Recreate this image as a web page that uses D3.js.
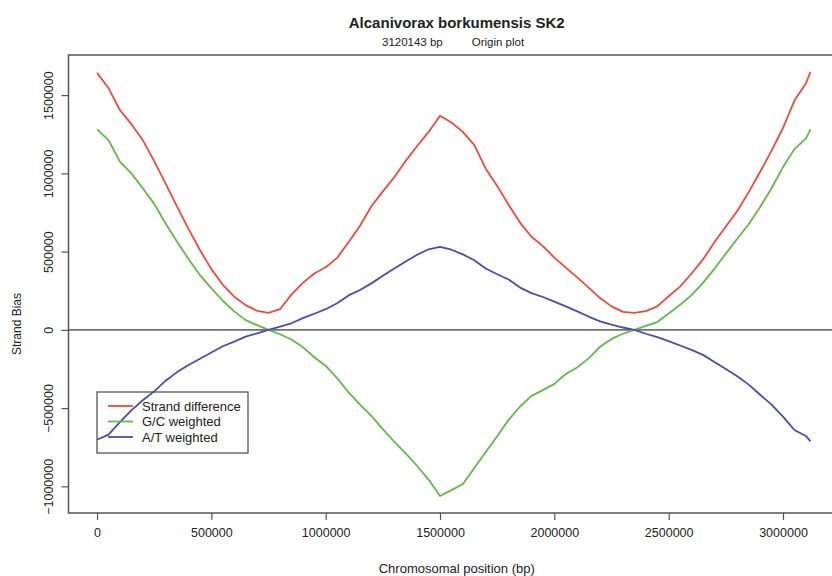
<!DOCTYPE html>
<html>
<head>
<meta charset="utf-8">
<script src="https://cdn.jsdelivr.net/npm/d3@7"></script>
<style>
  body { margin: 0; background: #fff; }
  text { font-family: "Liberation Sans", Arial, sans-serif; fill: #222; }
</style>
</head>
<body>
<div id="chart"></div>
<script>
// chromosomal positions (bp), every 50 kb + genome end
const positions = [0, 50000, 100000, 150000, 200000, 250000, 300000, 350000, 400000, 450000,
  500000, 550000, 600000, 650000, 700000, 750000, 800000, 850000, 900000, 950000,
  1000000, 1050000, 1100000, 1150000, 1200000, 1250000, 1300000, 1350000, 1400000, 1450000,
  1500000, 1550000, 1600000, 1650000, 1700000, 1750000, 1800000, 1850000, 1900000, 1950000,
  2000000, 2050000, 2100000, 2150000, 2200000, 2250000, 2300000, 2350000, 2400000, 2450000,
  2500000, 2550000, 2600000, 2650000, 2700000, 2750000, 2800000, 2850000, 2900000, 2950000,
  3000000, 3050000, 3100000, 3120143];

const strandDiff = [1642000, 1545000, 1405000, 1315000, 1212000, 1078000, 935000, 788000, 645000, 510000,
  388000, 288000, 212000, 158000, 122000, 108000, 132000, 225000, 300000, 360000,
  400000, 460000, 560000, 665000, 790000, 885000, 975000, 1080000, 1175000, 1265000,
  1368000, 1325000, 1265000, 1180000, 1030000, 920000, 800000, 685000, 595000, 535000,
  462000, 398000, 335000, 270000, 203000, 150000, 115000, 108000, 120000, 150000,
  215000, 276000, 360000, 450000, 560000, 660000, 760000, 880000, 1010000, 1145000,
  1290000, 1465000, 1575000, 1648000];

const gcWeighted = [1281000, 1213000, 1075000, 1000000, 905000, 805000, 680000, 563000, 453000, 350000,
  265000, 186000, 118000, 62000, 30000, 0, -28000, -62000, -110000, -175000,
  -230000, -308000, -400000, -478000, -550000, -634000, -715000, -790000, -870000, -957000,
  -1062000, -1024000, -985000, -883000, -780000, -680000, -575000, -490000, -422000, -385000,
  -345000, -282000, -240000, -182000, -108000, -58000, -25000, 0, 25000, 50000,
  105000, 160000, 222000, 300000, 390000, 487000, 582000, 675000, 785000, 905000,
  1040000, 1155000, 1222000, 1281000];

const atWeighted = [-702000, -670000, -590000, -515000, -450000, -393000, -325000, -270000, -225000, -185000,
  -145000, -105000, -75000, -43000, -22000, 0, 20000, 42000, 75000, 103000,
  132000, 170000, 220000, 255000, 297000, 345000, 392000, 437000, 480000, 515000,
  530000, 512000, 482000, 445000, 392000, 355000, 322000, 270000, 235000, 210000,
  180000, 150000, 118000, 85000, 54000, 33000, 15000, 0, -25000, -47000,
  -72000, -100000, -128000, -160000, -205000, -250000, -297000, -350000, -415000, -478000,
  -555000, -640000, -678000, -713000];

const seriesNames = ["Strand difference", "G/C weighted", "A/T weighted"];
const seriesColors = ["#ef4a3c", "#62b948", "#4a4cae"];
const xTicks = [0, 500000, 1000000, 1500000, 2000000, 2500000, 3000000];
const yTicks = [-1000000, -500000, 0, 500000, 1000000, 1500000];
const genomeSize = 3120143;

/* sizes */
const width = 832, height = 576;
const plot = {left: 68.5, right: 839, top: 55, bottom: 513};

const svg = d3.select("#chart").append("svg")
  .attr("width", width).attr("height", height)
  .style("display", "block");

svg.append("rect").attr("width", width).attr("height", height).attr("fill", "#fff");

/* scales, padded 4% like R */
const series = [strandDiff, gcWeighted, atWeighted];
const xExt = d3.extent(positions);
const xPad = (xExt[1] - xExt[0]) * 0.04;
const yExt = d3.extent(series.flat());
const yPad = (yExt[1] - yExt[0]) * 0.04;

const x = d3.scaleLinear().domain([xExt[0] - xPad, xExt[1] + xPad]).range([plot.left, plot.right]);
const y = d3.scaleLinear().domain([yExt[0] - yPad, yExt[1] + yPad]).range([plot.bottom, plot.top]);

/* axes */
const xAxis = svg.append("g")
  .attr("transform", "translate(0," + plot.bottom + ")")
  .call(d3.axisBottom(x).tickValues(xTicks).tickFormat(d3.format("d")).tickSize(7).tickPadding(8));
const yAxis = svg.append("g")
  .attr("transform", "translate(" + plot.left + ",0)")
  .call(d3.axisLeft(y).tickValues(yTicks).tickFormat(d3.format("d")).tickSize(7));

[xAxis, yAxis].forEach(g => {
  g.select(".domain").remove();
  g.selectAll(".tick line").attr("stroke", "#555").attr("stroke-width", 1.2);
  g.selectAll(".tick text").style("font-size", "12.5px").attr("fill", "#222");
});
xAxis.selectAll(".tick text").attr("y", 20).attr("dy", "0.32em");
yAxis.selectAll(".tick text")
  .attr("x", null).attr("dy", null)
  .attr("text-anchor", "middle")
  .attr("transform", "translate(-16,0) rotate(-90)")
  .attr("y", 0);

/* zero line */
svg.append("line")
  .attr("x1", plot.left).attr("x2", plot.right)
  .attr("y1", y(0)).attr("y2", y(0))
  .attr("stroke", "#707070").attr("stroke-width", 1.6);

/* curves */
const line = d3.line().x((d, i) => x(positions[i])).y(d => y(d));
series.forEach((s, i) => {
  svg.append("path")
    .datum(s)
    .attr("d", line)
    .attr("fill", "none")
    .attr("stroke", seriesColors[i])
    .attr("stroke-width", 1.8)
    .attr("stroke-linejoin", "round");
});

/* frame */
svg.append("rect")
  .attr("x", plot.left).attr("y", plot.top)
  .attr("width", plot.right - plot.left).attr("height", plot.bottom - plot.top)
  .attr("fill", "none").attr("stroke", "#555").attr("stroke-width", 1.5);

/* legend */
const legend = svg.append("g").attr("transform", "translate(97,392)");
legend.append("rect")
  .attr("width", 151).attr("height", 61)
  .attr("fill", "none").attr("stroke", "#555").attr("stroke-width", 1.3);
seriesNames.forEach((name, i) => {
  legend.append("line")
    .attr("x1", 11).attr("x2", 36)
    .attr("y1", 14 + i * 15.5).attr("y2", 14 + i * 15.5)
    .attr("stroke", seriesColors[i]).attr("stroke-width", 1.8);
  legend.append("text")
    .attr("x", 45).attr("y", 14 + i * 15.5).attr("dy", "0.35em")
    .style("font-size", "13px")
    .text(name);
});

/* titles */
const cx = (plot.left + plot.right) / 2 + 3;
svg.append("text")
  .attr("x", cx).attr("y", 28)
  .attr("text-anchor", "middle")
  .style("font-size", "15px").style("font-weight", "bold")
  .text("Alcanivorax borkumensis SK2");
svg.append("text")
  .attr("x", cx - 14).attr("y", 46)
  .attr("text-anchor", "end")
  .style("font-size", "11.5px")
  .text(genomeSize + " bp");
svg.append("text")
  .attr("x", cx + 15).attr("y", 46)
  .attr("text-anchor", "start")
  .style("font-size", "11.5px")
  .text("Origin plot");

svg.append("text")
  .attr("x", cx).attr("y", 573)
  .attr("text-anchor", "middle")
  .style("font-size", "13px")
  .text("Chromosomal position (bp)");
svg.append("text")
  .attr("transform", "translate(21,324) rotate(-90)")
  .attr("text-anchor", "middle")
  .style("font-size", "12px")
  .text("Strand Bias");
</script>
</body>
</html>
